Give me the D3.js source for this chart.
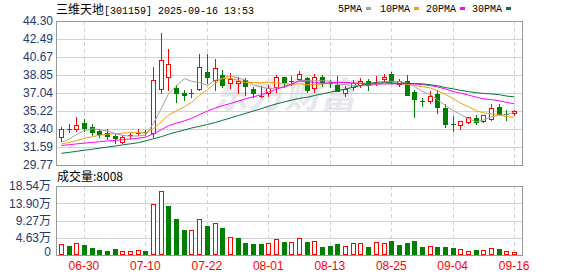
<!DOCTYPE html>
<html>
<head>
<meta charset="utf-8">
<script src="https://d3js.org/d3.v7.min.js"></script>
<style>
body { margin: 0; background: #fff; }
</style>
</head>
<body>
<div id="chart"></div>
<script>
// datos

const dates = ["06-25","06-26","06-27","06-30","07-01","07-02","07-03","07-04","07-07","07-08",
  "07-09","07-10","07-11","07-14","07-15","07-16","07-17","07-18","07-21","07-22",
  "07-23","07-24","07-25","07-28","07-29","07-30","07-31","08-01","08-04","08-05",
  "08-06","08-07","08-08","08-11","08-12","08-13","08-14","08-15","08-18","08-19",
  "08-20","08-21","08-22","08-25","08-26","08-27","08-28","08-29","09-01","09-02",
  "09-03","09-04","09-05","09-08","09-09","09-10","09-11","09-12","09-15","09-16"]

const opens = [32.63,33.40,33.37,33.98,33.57,33.20,32.97,32.67,32.09,32.73,
  32.90,33.13,33.03,37.41,38.68,37.54,37.07,36.97,37.41,39.15,
  38.32,38.82,38.07,38.07,38.35,37.47,36.73,37.07,37.67,38.62,
  38.26,38.42,38.52,37.51,38.65,38.09,37.81,37.01,37.61,37.81,
  38.28,38.05,38.42,38.95,37.94,38.22,37.14,36.18,36.20,36.93,
  35.52,33.86,33.84,34.11,34.51,34.18,34.38,35.59,34.96,34.99]
const highs = [33.57,33.91,34.58,34.38,33.91,33.37,33.37,32.90,32.83,32.97,
  33.37,33.27,39.63,43.12,41.47,37.84,37.34,37.41,40.97,40.97,
  40.50,39.36,39.02,38.68,38.52,37.67,37.74,37.81,38.82,38.68,
  38.75,39.26,38.68,38.95,38.85,38.35,38.75,37.74,38.35,38.55,
  38.42,38.75,38.95,39.15,38.42,38.85,37.34,36.50,37.24,37.34,
  35.93,34.71,34.18,34.65,34.81,34.85,35.93,35.93,35.32,35.32]
const lows = [32.22,33.07,33.17,33.23,32.77,32.57,32.43,32.02,31.96,32.50,
  32.83,32.77,32.63,37.07,37.34,36.16,36.33,36.60,37.30,38.01,
  37.34,37.67,37.51,37.07,36.83,36.60,36.60,36.73,37.17,37.67,
  37.81,38.35,37.17,37.17,37.77,37.61,37.20,36.73,37.34,37.67,
  37.34,37.81,38.22,38.01,37.74,36.86,34.64,35.75,36.06,35.05,
  33.57,33.23,33.37,34.04,33.91,34.11,34.31,34.92,34.31,34.85]
const closes = [33.37,33.33,33.78,33.50,33.10,32.93,32.67,32.46,32.57,32.78,
  33.03,33.10,38.35,40.36,39.93,37.01,36.81,37.00,39.63,38.62,
  39.53,37.84,38.42,38.25,37.74,37.01,36.76,37.57,38.62,38.15,
  38.28,38.95,37.34,38.62,38.18,38.07,37.20,37.41,38.01,38.28,
  37.81,38.07,38.62,38.28,38.22,36.86,36.40,36.16,36.73,35.59,
  33.94,33.84,34.18,34.58,34.11,34.78,35.49,34.95,34.92,35.25]

// volumen en 万
const volumes = [2.96,2.42,3.22,2.69,1.88,1.34,1.07,1.61,1.07,1.07,
  1.34,1.07,13.70,17.10,13.17,9.67,6.72,6.72,9.59,7.79,
  8.51,7.25,4.92,4.57,3.22,2.96,2.96,3.22,4.21,3.49,
  3.49,4.48,3.49,3.76,2.15,2.42,2.96,2.42,3.22,3.22,
  2.15,3.49,3.22,3.76,2.69,3.22,3.76,2.15,2.42,2.15,
  2.15,1.88,1.61,1.07,1.34,1.34,1.88,1.61,1.07,0.8008]
const volUp = [1,0,1,0,0,0,0,0,1,1, 1,0,1,1,0,0,0,1,1,0, 1,0,1,0,0,0,0,1,1,0,
  1,1,0,1,0,0,0,1,1,1, 0,1,1,0,0,0,0,0,1,0, 0,0,1,1,0,1,1,0,1,1]

const ma5 = [32.05,32.40,32.85,33.25,33.43,33.34,33.20,32.93,32.75,32.68,
  32.70,32.79,33.97,35.52,36.95,37.75,38.49,38.22,38.08,37.81,
  38.32,38.52,38.81,38.53,38.36,37.85,37.64,37.47,37.54,37.62,
  37.88,38.31,38.27,38.27,38.27,38.23,37.88,37.90,37.77,37.79,
  37.74,37.92,38.16,38.21,38.20,38.01,37.68,37.18,36.87,36.35,
  35.76,35.25,34.86,34.43,34.13,34.30,34.63,34.78,34.85,35.08]
const ma10 = [31.89,32.06,32.23,32.46,32.63,32.77,32.87,32.93,32.97,33.06,
  33.02,32.99,33.45,34.14,34.82,35.23,35.64,36.09,36.80,37.38,
  38.03,38.51,38.52,38.30,38.09,38.09,38.08,38.14,38.04,37.99,
  37.86,37.98,37.87,37.90,37.95,38.05,38.10,38.08,38.02,38.03,
  37.99,37.90,38.03,37.99,38.00,37.88,37.80,37.67,37.54,37.27,
  36.89,36.46,36.02,35.65,35.24,35.03,34.94,34.82,34.64,34.60]
const ma20 = [31.74,31.82,31.90,31.98,32.05,32.12,32.19,32.26,32.33,32.40,
  32.48,32.58,32.92,33.34,33.74,33.99,34.23,34.48,34.86,35.22,
  35.53,35.75,35.98,36.22,36.45,36.66,36.86,37.12,37.42,37.69,
  37.95,38.24,38.19,38.10,38.02,38.07,38.09,38.11,38.03,38.01,
  37.93,37.94,37.95,37.95,37.97,37.97,37.95,37.88,37.78,37.65,
  37.44,37.18,37.02,36.82,36.62,36.45,36.37,36.25,36.09,35.94]
const ma30 = [30.95,31.05,31.15,31.26,31.36,31.47,31.58,31.69,31.80,31.91,
  32.03,32.20,32.42,32.63,32.87,33.10,33.30,33.50,33.68,33.86,
  34.06,34.28,34.52,34.76,34.98,35.22,35.46,35.70,35.94,36.14,
  36.31,36.49,36.61,36.78,36.95,37.12,37.27,37.44,37.62,37.80,
  37.96,38.13,38.14,38.07,38.01,38.01,37.99,37.96,37.87,37.77,
  37.58,37.45,37.30,37.18,37.06,36.99,36.94,36.86,36.73,36.64]

const priceTicks = [44.30,42.49,40.67,38.85,37.04,35.22,33.40,31.59,29.77]
const volTicks = [18.54,13.90,9.27,4.63,0]
const dateTicks = ["06-30","07-10","07-22","08-01","08-13","08-25","09-04","09-16"]

const maNames = ["5PMA","10PMA","20PMA","30PMA"]
const maColors = ["#a0a0a0","#f4a000","#ff00ff","#06743a"]

// constantes de layout

const width = 578
const height = 276
const left = 56
const right = 522
const main = {top: 21, bottom: 165}
const vol = {top: 186, bottom: 255}
const red = "#ff0000"
const green = "#008000"
const grid = "#d2d2d2"
const border = "#999"
const axisColor = "#233a70"

const svg = d3.select("#chart").append("svg")
    .attr("width", width).attr("height", height)
    .style("font-family", "'Liberation Sans', Arial, sans-serif")

// escalas

const x = d3.scaleBand().domain(dates).range([left + 1, right - 4])
const cx = d => Math.round(x(d) + x.bandwidth() / 2)
const y = d3.scaleLinear().domain([29.77, 44.30]).range([main.bottom, main.top])
const yv = d3.scaleLinear().domain([0, 18.54]).range([vol.bottom, vol.top])

// titulo y leyenda

const title = svg.append("text").attr("x", 56).attr("y", 14).attr("font-size", 12).attr("fill", "#000")
title.append("tspan").attr("font-family", "'Noto Sans CJK SC', sans-serif").text("三维天地")
title.append("tspan").attr("font-family", "'Liberation Mono', monospace").attr("font-size", 10)
    .text("[301159] 2025-09-16 13:53")

const legendX = [338, 380, 426, 472]
const legend = svg.append("g").attr("id", "legend")
maNames.forEach((n, i) => {
    legend.append("text").attr("x", legendX[i]).attr("y", 12)
        .attr("font-family", "'Liberation Mono', monospace").attr("font-size", 10)
        .attr("fill", "#000").text(n)
    legend.append("rect").attr("x", legendX[i] + n.length * 6 + 4).attr("y", 7)
        .attr("width", 5).attr("height", 3).attr("fill", maColors[i])
})

// marca de agua

svg.append("text").attr("x", 212).attr("y", 108)
    .attr("font-family", "'Noto Sans CJK SC', sans-serif").attr("font-size", 36).attr("font-weight", "bold")
    .attr("font-style", "italic").attr("fill", "#e7e7ee").text("东方财富")

// rejillas

function panel(top, bottom, ticks, scale) {
    const g = svg.append("g")
    g.selectAll(".h").data(ticks.slice(1, -1)).join("line")
        .attr("x1", left).attr("x2", right)
        .attr("y1", d => Math.round(scale(d)) + 0.5).attr("y2", d => Math.round(scale(d)) + 0.5)
        .attr("stroke", grid)
    g.selectAll(".v").data(dateTicks).join("line")
        .attr("x1", d => cx(d) + 0.5).attr("x2", d => cx(d) + 0.5)
        .attr("y1", top).attr("y2", bottom)
        .attr("stroke", grid).attr("stroke-dasharray", "4,3")
    g.append("rect").attr("x", left + 0.5).attr("y", top + 0.5)
        .attr("width", right - left).attr("height", bottom - top)
        .attr("fill", "none").attr("stroke", border)
}
panel(main.top, main.bottom, priceTicks, y)
panel(vol.top, vol.bottom, volTicks, yv)

// velas

const candles = dates.map((d, i) => ({date: d, o: opens[i], h: highs[i], l: lows[i], c: closes[i]}))
const candleGroup = svg.append("g").attr("id", "candles")

candleGroup.selectAll("line").data(candles).join("line")
    .attr("x1", d => cx(d.date) + 0.5).attr("x2", d => cx(d.date) + 0.5)
    .attr("y1", d => Math.round(y(d.h))).attr("y2", d => Math.round(y(d.l)) + 1)
    .attr("stroke", d => d.c >= d.o ? red : green)

candleGroup.selectAll("rect").data(candles).join("rect")
    .each(function (d) {
        const t = Math.round(y(Math.max(d.o, d.c)))
        const b = Math.round(y(Math.min(d.o, d.c)))
        const up = d.c >= d.o
        const r = d3.select(this)
        if (b - t < 2) {
            r.attr("x", cx(d.date) - 2).attr("y", t).attr("width", 5).attr("height", 1)
                .attr("fill", up ? red : green)
        } else if (up) {
            r.attr("x", cx(d.date) - 1.5).attr("y", t + 0.5).attr("width", 4).attr("height", b - t)
                .attr("fill", "#fff").attr("stroke", red)
        } else {
            r.attr("x", cx(d.date) - 2).attr("y", t).attr("width", 5).attr("height", b - t + 1)
                .attr("fill", green)
        }
    })

// medias moviles

const maGroup = svg.append("g").attr("id", "ma")
;[ma5, ma10, ma20, ma30].forEach((serie, i) => {
    const line = d3.line().x((v, j) => cx(dates[j]) + 0.5).y(v => y(v))
    maGroup.append("path").datum(serie).attr("d", line)
        .attr("fill", "none").attr("stroke", maColors[i]).attr("stroke-width", 1)
})

// volumen

const volGroup = svg.append("g").attr("id", "volumen")
volGroup.selectAll("rect").data(dates).join("rect")
    .each(function (d, i) {
        const t = Math.round(yv(volumes[i]))
        const r = d3.select(this)
        if (volUp[i]) {
            r.attr("x", cx(d) - 1.5).attr("y", t + 0.5).attr("width", 4).attr("height", vol.bottom - t - 1)
                .attr("fill", "#fff").attr("stroke", red)
        } else {
            r.attr("x", cx(d) - 2).attr("y", t).attr("width", 5).attr("height", vol.bottom - t)
                .attr("fill", green)
        }
    })

svg.append("text").attr("x", 57).attr("y", 181).attr("font-size", 12)
    .attr("font-family", "'Noto Sans CJK SC', sans-serif").attr("fill", "#000")
    .text("成交量:" + Math.round(volumes[volumes.length - 1] * 10000))

// ejes

const yAxis = d3.axisLeft(y).tickValues(priceTicks).tickSize(0).tickPadding(3).tickFormat(d3.format(".2f"))
const yvAxis = d3.axisLeft(yv).tickValues(volTicks).tickSize(0).tickPadding(5)
    .tickFormat(d => d === 0 ? "0" : d3.format(".2f")(d) + "万")
const xAxis = d3.axisBottom(x).tickValues(dateTicks).tickSize(0).tickPadding(6)

const yAxisGroup = svg.append("g").attr("transform", `translate(${left},0)`).call(yAxis)
const yvAxisGroup = svg.append("g").attr("transform", `translate(${left},0)`).call(yvAxis)
const xAxisGroup = svg.append("g").attr("transform", `translate(0,${vol.bottom})`).call(xAxis)

;[yAxisGroup, yvAxisGroup, xAxisGroup].forEach(g => {
    g.select(".domain").remove()
    g.attr("font-size", 12).attr("font-family", "'Liberation Sans', 'Noto Sans CJK SC', sans-serif")
})
yAxisGroup.selectAll("text").attr("fill", axisColor)
yvAxisGroup.selectAll("text").attr("fill", axisColor).attr("dy", d => d === 0 ? "0.05em" : "0.32em")
xAxisGroup.selectAll("text").attr("fill", red)
</script>
</body>
</html>
